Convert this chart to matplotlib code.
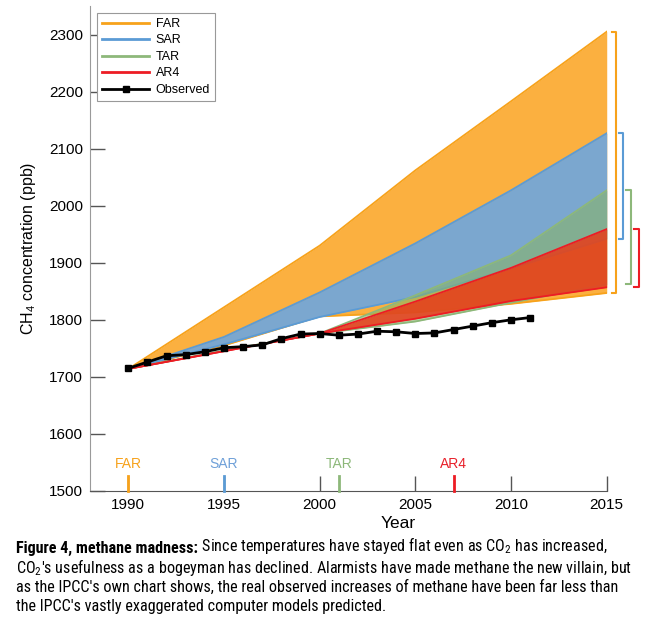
import matplotlib
matplotlib.use("Agg")
import matplotlib.pyplot as plt
from matplotlib.lines import Line2D
from matplotlib import font_manager as fm

plt.rcParams['font.family'] = ['Liberation Sans', 'DejaVu Sans']
plt.rcParams['mathtext.default'] = 'regular'

# projections (IPCC report ranges), every 5 years
years = [1990, 1995, 2000, 2005, 2010, 2015]
far_hi = [1714, 1822, 1930, 2062, 2183, 2305]
far_lo = [1714, 1755, 1806, 1813, 1828, 1847]
sar_hi = [1714, 1770, 1848, 1934, 2027, 2127]
sar_lo = [1714, 1757, 1805, 1840, 1890, 1942]
tar_hi = [1714, 1746, 1776, 1843, 1913, 2027]
tar_lo = [1714, 1746, 1776, 1797, 1830, 1862]
ar4_hi = [1714, 1745, 1776, 1832, 1891, 1959]
ar4_lo = [1714, 1745, 1776, 1802, 1833, 1857]

# observed CH4
obs_years = list(range(1990, 2012))
obs = [1715, 1726, 1737, 1739, 1744, 1751, 1753, 1756, 1767, 1775, 1776,
       1773, 1775, 1780, 1779, 1776, 1777, 1783, 1789, 1795, 1800, 1804]

report_names = ["FAR", "SAR", "TAR", "AR4"]
report_years = [1990, 1995, 2001, 2007]

fill_cols = ['#FBB040', '#7BA7CF', '#87B469', '#E83C19']
fill_alpha = [1.0, 1.0, 0.6, 0.85]
edge_cols = ['#F7A21B', '#5B9BD5', '#8DB87A', '#ED1C24']
text_cols = ['#F7A21B', '#6FA0D8', '#8DB87A', '#E8202A']


def caption_font():
    # a narrow face if one is there, plain sans otherwise
    for name in ['Liberation Sans Narrow', 'Roboto Condensed', 'Open Sans Condensed',
                 'DejaVu Sans Condensed']:
        try:
            fm.findfont(fm.FontProperties(family=name), fallback_to_default=False)
            return {'family': name}
        except ValueError:
            pass
    p = fm.findfont(fm.FontProperties(family='DejaVu Sans', stretch='condensed'))
    if 'Condensed' in p:
        return {'family': 'DejaVu Sans', 'stretch': 'condensed'}
    return {'family': ['Liberation Sans', 'DejaVu Sans']}


fig = plt.figure(figsize=(6.48, 6.20), dpi=100)
ax = fig.add_axes([0.1389, 0.2081, 0.7974, 0.7822])

bands = [(far_lo, far_hi), (sar_lo, sar_hi), (tar_lo, tar_hi), (ar4_lo, ar4_hi)]
for i, (lo, hi) in enumerate(bands):
    ax.fill_between(years, lo, hi, color=fill_cols[i], alpha=fill_alpha[i], lw=0, zorder=2 + i)
    ax.plot(years, hi, color=edge_cols[i], lw=1.3, zorder=2.5 + i)
    ax.plot(years, lo, color=edge_cols[i], lw=1.3, zorder=2.5 + i)

ax.plot(obs_years, obs, color='black', lw=2, marker='s', ms=4.5, zorder=10)

ax.set_xlim(1988, 2015)
ax.set_ylim(1500, 2350)
ax.set_xticks(range(1990, 2016, 5))
ax.set_yticks(range(1500, 2301, 100))
ax.tick_params(direction='in', length=11, width=1, color='#555555',
               labelsize=11, pad=5)
for s in ['top', 'right']:
    ax.spines[s].set_visible(False)
ax.spines['left'].set_color('#9a9a9a')
ax.spines['bottom'].set_color('#555555')

# report publication markers
for i, name in enumerate(report_names):
    ax.plot([report_years[i]] * 2, [1500, 1527], color=edge_cols[i], lw=2, zorder=6,
            clip_on=False)
    ax.text(report_years[i], 1547, name, color=text_cols[i], fontsize=10,
            ha='center', va='center')

# range brackets at 2015
offsets = [0.5, 0.87, 1.27, 1.68]
for i, (lo, hi) in enumerate(bands):
    xb = years[-1] + offsets[i]
    ax.plot([xb - 0.25, xb, xb, xb - 0.25], [hi[-1], hi[-1], lo[-1], lo[-1]],
            color=edge_cols[i], lw=1.5, clip_on=False)

ax.set_ylabel('CH$_4$ concentration (ppb)', fontsize=11.5, labelpad=8)
ax.set_xlabel('Year', fontsize=12.5)
ax.xaxis.set_label_coords(0.596, -0.052)

handles = [Line2D([], [], color=c, lw=2) for c in edge_cols]
handles.append(Line2D([], [], color='black', lw=2, marker='s', ms=4.5))
leg = ax.legend(handles, report_names + ['Observed'], loc='upper left',
                bbox_to_anchor=(0.0135, 0.9856), borderaxespad=0, fontsize=9,
                fancybox=False, framealpha=1, edgecolor='#999999',
                handlelength=3.8, handletextpad=0.5, labelspacing=0.36)
leg.get_frame().set_linewidth(0.8)

# caption
cf = caption_font()
x0 = 16 / 648
base = [553, 572.5, 592, 611]
b = fig.text(x0, 1 - base[0] / 620, 'Figure 4, methane madness:', fontsize=11,
             fontweight='bold', va='baseline', **cf)
rest = ax.annotate(' Since temperatures have stayed flat even as CO$_2$ has increased,',
                   xy=(1, 0), xycoords=b, va='bottom', ha='left', fontsize=11,
                   annotation_clip=False, **cf)
lines = ["CO$_2$'s usefulness as a bogeyman has declined. Alarmists have made methane the new villain, but",
         "as the IPCC's own chart shows, the real observed increases of methane have been far less than",
         "the IPCC's vastly exaggerated computer models predicted."]
cap = [b, rest]
for j, t in enumerate(lines):
    cap.append(fig.text(x0, 1 - base[j + 1] / 620, t, fontsize=11, va='baseline', **cf))

# size the caption so its longest line spans the same width as in the print
r = fig.canvas.get_renderer()
w = cap[2].get_window_extent(r).width
scale = min(1.15, 615 / w)
for t in cap:
    t.set_fontsize(11 * scale)

fig.savefig('out.png', dpi=100)
